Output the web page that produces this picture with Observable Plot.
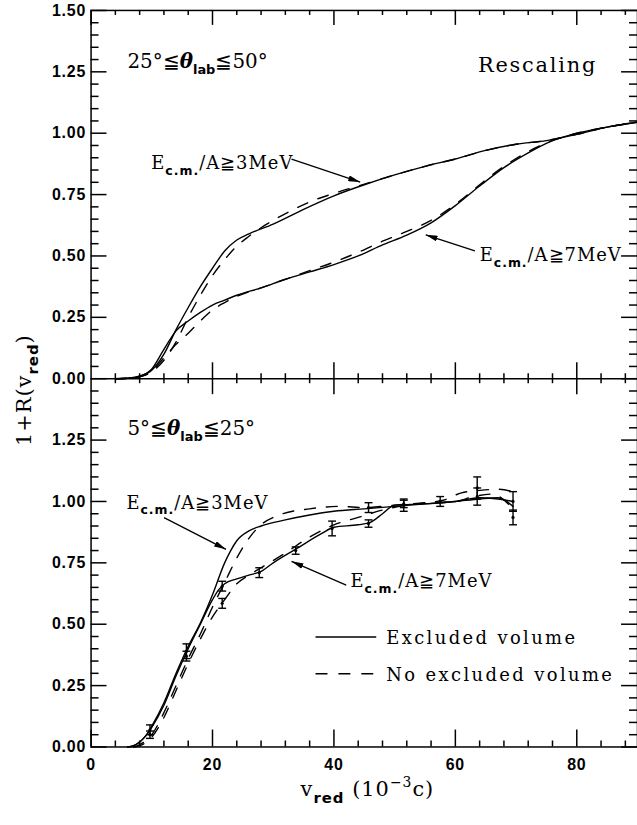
<!DOCTYPE html>
<html><head><meta charset="utf-8">
<script src="https://cdn.jsdelivr.net/npm/d3@7"></script>
<script src="https://cdn.jsdelivr.net/npm/@observablehq/plot@0.6"></script>
<style>html,body{margin:0;padding:0;background:#fff;overflow:hidden;} svg{display:block}</style>
</head><body><div id="chart"></div><pre id="note" style="position:absolute;left:420px;top:430px;font-size:10px;margin:0;color:#fff;background:transparent">.</pre>
<script>
// ---------- data (panel-local y values) ----------
const topE3SolidX = [4,6,8,10,12,14,16,18,20,22,24,26,30,35,40,45,50,55,60,65,70,75,80,85,90];
const topE3SolidY = [0,0.002,0.01,0.035,0.10,0.20,0.29,0.375,0.45,0.52,0.565,0.59,0.63,0.69,0.745,0.79,0.83,0.865,0.895,0.93,0.955,0.97,0.995,1.025,1.045];
const topE3DashedX = [4,6,8,10,12,14,16,18,20,22,24,26,28,30,33,36,40,44,50,55,60,65,70,75,80,85,90];
const topE3DashedY = [0,0.002,0.008,0.028,0.075,0.15,0.25,0.34,0.42,0.485,0.54,0.58,0.615,0.645,0.685,0.72,0.755,0.785,0.83,0.865,0.895,0.93,0.955,0.97,0.995,1.025,1.045];
const topE7SolidX = [4,6,8,10,12,14,16,18,20,22,24,28,32,36,40,44,48,52,56,60,64,68,72,76,80,85,90];
const topE7SolidY = [0,0.002,0.01,0.04,0.12,0.195,0.235,0.27,0.30,0.32,0.34,0.37,0.405,0.435,0.465,0.50,0.545,0.585,0.635,0.705,0.785,0.86,0.92,0.97,1.0,1.025,1.045];
const topE7DashedX = [4,6,8,10,12,14,16,18,20,22,24,28,32,36,40,44,48,52,56,60,64,68,72,76,80,85,90];
const topE7DashedY = [0,0.002,0.008,0.03,0.085,0.14,0.185,0.235,0.28,0.31,0.335,0.37,0.405,0.44,0.475,0.515,0.56,0.60,0.645,0.71,0.79,0.865,0.925,0.97,1.0,1.025,1.045];

const botE3SolidX = [6,7,8,9,10,12,14,16,18,20,22,23,24,26,28,32,36,40,45,50,55,60,64,67,69.5];
const botE3SolidY = [0,0.005,0.02,0.045,0.085,0.18,0.30,0.41,0.505,0.62,0.75,0.80,0.84,0.88,0.90,0.925,0.945,0.96,0.97,0.98,0.99,1.0,1.01,1.015,0.98];
const botE3DashedX = [7,8,10,12,14,16,18,20,22,24,26,28,31,36,41,45,50,55,58,61,64,67,69.5];
const botE3DashedY = [0,0.01,0.05,0.14,0.25,0.36,0.46,0.57,0.67,0.77,0.85,0.905,0.945,0.97,0.98,0.975,0.985,0.995,1.005,1.035,1.045,1.05,1.04];
const botE7SolidX = [6,7,8,9,10,12,14,16,18,20,21,22,24,26,28,30,34,38,40,44,46,48,50,55,60,64,67,69.5];
const botE7SolidY = [0,0.005,0.02,0.045,0.08,0.17,0.29,0.40,0.50,0.60,0.64,0.665,0.685,0.70,0.715,0.75,0.81,0.87,0.895,0.905,0.915,0.95,0.985,0.99,1.0,1.015,1.01,1.0];
const botE7DashedX = [7,8,10,12,14,16,18,20,22,24,26,28,32,36,40,44,48,52,56,60,63,66,69.5];
const botE7DashedY = [0,0.005,0.04,0.12,0.23,0.34,0.44,0.53,0.60,0.665,0.70,0.73,0.79,0.855,0.905,0.935,0.965,0.985,0.995,1.0,1.02,1.03,0.97];

// error bars (bottom panel)
const errX = [9.7,9.7,15.7,15.7,21.6,21.6,27.7,33.7,39.7,45.7,45.7,51.5,51.5,57.5,63.6,63.6,69.5,69.5];
const errY = [0.07,0.05,0.39,0.37,0.655,0.585,0.71,0.80,0.89,0.975,0.91,0.985,0.99,1.0,1.055,1.02,1.0,0.935];
const errE = [0.02,0.015,0.03,0.02,0.02,0.02,0.02,0.015,0.03,0.02,0.015,0.025,0.015,0.02,0.045,0.035,0.04,0.03];

// ticks
const xMajor = [0,20,40,60,80];
const xMinor = d3.range(1, 23).map(i => i * 4).filter(v => v % 20 !== 0);
const yMajor = d3.range(0, 13).map(i => i * 0.25);           // stacked scale 0..3 (bottom panel 0..1.5, top 1.5..3)
const yMinor = d3.range(0, 61).map(i => +(i * 0.05).toFixed(2)).filter(v => Math.abs(v / 0.25 - Math.round(v / 0.25)) > 1e-6);

// ---------- layout ----------
const W = 640, H = 825, ML = 91, MR = 0, MT = 10, MB = 75;
const XD = [0, 90], YD = [0, 3];
const kx = (W - ML - MR) / (XD[1] - XD[0]);
const ky = (H - MT - MB) / (YD[1] - YD[0]);
const lx = p => p / kx, ly = p => p / ky;   // pixel length -> data length

// ---------- build tables ----------
const OFF = {top: 1.5, bot: 0};
function seriesRows(panel, key, xs, ys) { return xs.map((x, i) => ({panel, key, x, y: ys[i] + OFF[panel]})); }
const solidRows = [
  ...seriesRows("top", "t3", topE3SolidX, topE3SolidY),
  ...seriesRows("top", "t7", topE7SolidX, topE7SolidY),
  ...seriesRows("bot", "b3", botE3SolidX, botE3SolidY),
  ...seriesRows("bot", "b7", botE7SolidX, botE7SolidY)
];
const dashedRows = [
  ...seriesRows("top", "t3", topE3DashedX, topE3DashedY),
  ...seriesRows("top", "t7", topE7DashedX, topE7DashedY),
  ...seriesRows("bot", "b3", botE3DashedX, botE3DashedY),
  ...seriesRows("bot", "b7", botE7DashedX, botE7DashedY)
];
const errRows = errX.map((x, i) => ({x, lo: errY[i] - errE[i], hi: errY[i] + errE[i], y: errY[i]}));

const fmtY = v => { const u = v >= 1.5 - 1e-9 ? v - 1.5 : v; return d3.format(".2f")(Math.abs(u) < 1e-9 ? 0 : u); };
const SW = 1.5;
const CAP = 0.65;
const tk = {stroke: "black", strokeWidth: SW};

const plot = Plot.plot({
  width: W, height: H,
  marginLeft: ML, marginRight: MR, marginTop: MT, marginBottom: MB,
  x: {domain: XD},
  y: {domain: YD},
  style: {fontFamily: "'Liberation Sans', Arial, sans-serif", fontSize: "16px", fontWeight: "bold", color: "black", background: "white", letterSpacing: "0.8px"},
  marks: [
    Plot.frame({stroke: "black", strokeWidth: SW}),
    Plot.ruleY([1.5], {stroke: "black", strokeWidth: SW}),
    // inward ticks (bottom, top, shared middle line, left, right)
    Plot.ruleX(xMajor, {y1: 0, y2: ly(17), ...tk}),
    Plot.ruleX(xMinor, {y1: 0, y2: ly(6), ...tk}),
    Plot.ruleX(xMajor, {y1: 3 - ly(15), y2: 3, ...tk}),
    Plot.ruleX(xMinor, {y1: 3 - ly(5), y2: 3, ...tk}),
    Plot.ruleX(xMajor.filter(d => d > 0), {y1: 1.5 - ly(16), y2: 1.5 + ly(16), ...tk}),
    Plot.ruleX(xMinor, {y1: 1.5 - ly(5), y2: 1.5 + ly(5), ...tk}),
    Plot.ruleY(yMajor, {x1: 0, x2: lx(16), ...tk}),
    Plot.ruleY(yMinor, {x1: 0, x2: lx(8), ...tk}),
    Plot.ruleY(yMajor, {x1: 90 - lx(16), x2: 90, ...tk}),
    Plot.ruleY(yMinor, {x1: 90 - lx(8), x2: 90, ...tk}),
    // tick labels
    Plot.axisX({anchor: "bottom", ticks: xMajor, tickSize: 0, tickPadding: 12, label: null, tickFormat: d3.format("d")}),
    Plot.axisY({anchor: "left", ticks: yMajor, tickSize: 0, tickPadding: 5, label: null, tickFormat: fmtY}),
    // curves
    Plot.line(solidRows, {x: "x", y: "y", z: "key", curve: "monotone-x", stroke: "black", strokeWidth: 1.4}),
    Plot.line(dashedRows, {x: "x", y: "y", z: "key", curve: "monotone-x", stroke: "black", strokeWidth: 1.4, strokeDasharray: "11,11"}),
    // error bars
    Plot.link(errRows, {x1: "x", x2: "x", y1: "lo", y2: "hi", stroke: "black", strokeWidth: 1.4}),
    Plot.link(errRows, {x1: d => d.x - CAP, x2: d => d.x + CAP, y1: "lo", y2: "lo", stroke: "black", strokeWidth: 1.4}),
    Plot.link(errRows, {x1: d => d.x - CAP, x2: d => d.x + CAP, y1: "hi", y2: "hi", stroke: "black", strokeWidth: 1.4}),
    Plot.dot(errRows, {x: "x", y: "y", r: 1.6, fill: "black", stroke: "none"})
  ]
});
document.getElementById("chart").appendChild(plot);

// ---------- annotations positioned through the plot's scales ----------
const sx = plot.scale("x"), sy = plot.scale("y");
const PX = x => sx.apply(x);
const PY = (y, panel) => sy.apply(y + OFF[panel]);
const svg = d3.select(plot);

svg.append("defs").append("marker")
  .attr("id", "ah").attr("viewBox", "0 0 12 6").attr("refX", 12).attr("refY", 3)
  .attr("markerWidth", 12).attr("markerHeight", 6).attr("markerUnits", "userSpaceOnUse").attr("orient", "auto")
  .append("path").attr("d", "M0,0L12,3L0,6Z").attr("fill", "black");

const SERIF = "'DejaVu Serif', 'Liberation Serif', serif";
const SANS = "'DejaVu Sans', 'Liberation Sans', sans-serif";
function rich(x, y, parts, {size = 18, ls = 1, anchor = "start", transform = null} = {}) {
  const t = svg.append("text").attr("x", x).attr("y", y).attr("text-anchor", anchor)
    .style("font-family", SERIF).style("font-size", size + "px").style("font-weight", "normal")
    .style("letter-spacing", ls + "px").attr("fill", "black");
  let shift = 0;
  for (const p of parts) {
    const ts = t.append("tspan").text(p.t);
    const target = p.sub ? size * 0.32 : p.sup ? -size * 0.42 : 0;
    if (target !== shift) { ts.attr("dy", target - shift); shift = target; }
    if (p.fs) ts.style("font-size", p.fs + "px");
    if (p.sans) ts.style("font-family", SANS).style("font-weight", "bold");
    if (p.italic) ts.style("font-style", "italic").style("font-weight", "bold");
  }
  if (transform) t.attr("transform", transform);
  return t;
}
const ecm = (n) => [{t: "E"}, {t: "c.m.", sub: true, sans: true, fs: 12.5}, {t: "/A" + (n === 3 ? "≧3" : "≧7") + "MeV"}];

// panel titles
rich(PX(6.07), PY(1.265, "top"), [{t: "25°≦"}, {t: "θ", italic: true}, {t: "lab", sub: true, sans: true, fs: 13}, {t: "≦50°"}], {size: 20, ls: 0});
rich(PX(63.8), PY(1.249, "top"), [{t: "Rescaling"}], {size: 21, ls: 1.8});
rich(PX(6.07), PY(1.269, "bot"), [{t: "5°≦"}, {t: "θ", italic: true}, {t: "lab", sub: true, sans: true, fs: 13}, {t: "≦25°"}], {size: 20, ls: 0});

// curve labels
rich(PX(10.0), PY(0.851, "top"), ecm(3));
rich(PX(64.1), PY(0.478, "top"), ecm(7));
rich(PX(5.9), PY(0.969, "bot"), ecm(3));
rich(PX(42.8), PY(0.649, "bot"), ecm(7));

// arrows
const arrows = [
  {panel: "top", x1: 33.1, y1: 0.892, x2: 44.4, y2: 0.799},
  {panel: "top", x1: 63.3, y1: 0.519, x2: 55.2, y2: 0.584},
  {panel: "bot", x1: 12.1, y1: 0.932, x2: 22.3, y2: 0.803},
  {panel: "bot", x1: 42.1, y1: 0.657, x2: 33.1, y2: 0.754}
];
for (const a of arrows) {
  svg.append("line").attr("x1", PX(a.x1)).attr("y1", PY(a.y1, a.panel)).attr("x2", PX(a.x2)).attr("y2", PY(a.y2, a.panel))
    .attr("stroke", "black").attr("stroke-width", 1.3).attr("marker-end", "url(#ah)");
}

// legend
const legend = [
  {label: "Excluded volume", y: 0.446, ty: 0.418, dash: null},
  {label: "No excluded volume", y: 0.296, ty: 0.268, dash: "12,11"}
];
for (const l of legend) {
  const ln = svg.append("line").attr("x1", PX(37.05)).attr("x2", PX(47.05)).attr("y1", PY(l.y, "bot")).attr("y2", PY(l.y, "bot"))
    .attr("stroke", "black").attr("stroke-width", 1.4);
  if (l.dash) ln.attr("stroke-dasharray", l.dash);
  rich(PX(48.7), PY(l.ty, "bot"), [{t: l.label}], {size: 18, ls: 2.4});
}

// axis titles
rich(302, 800, [{t: "v"}, {t: "red", sub: true, sans: true, fs: 15}, {t: " (10"}, {t: "−3", sup: true, fs: 14}, {t: "c)"}], {size: 21, ls: 1});
rich(0, 0, [{t: "1+R(v"}, {t: "red", sub: true, sans: true, fs: 15}, {t: ")"}], {size: 21, ls: 1, anchor: "middle", transform: "translate(31,392) rotate(-90)"});
</script>
</body></html>
